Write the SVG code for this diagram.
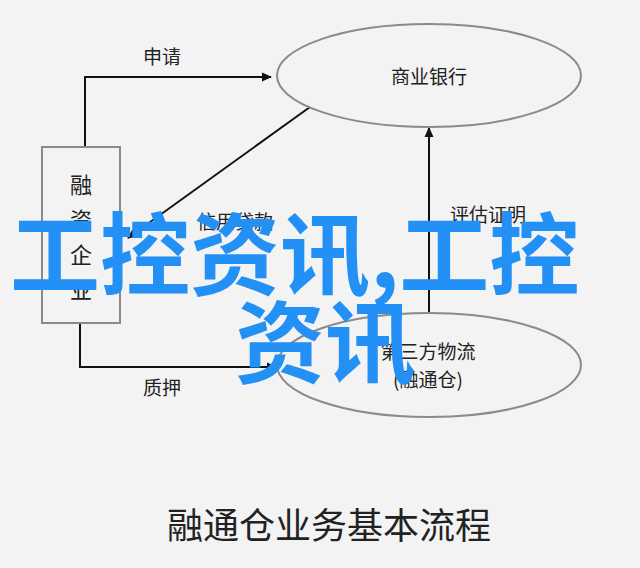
<svg xmlns="http://www.w3.org/2000/svg" width="640" height="568" viewBox="0 0 640 568">
<defs>
<marker id="arr" markerWidth="10" markerHeight="10" refX="9" refY="5" orient="auto" markerUnits="userSpaceOnUse">
<path d="M0,0.5 L10,5 L0,9.5 Z" fill="#111"/>
</marker>
<style>
.t{font-family:"Noto Sans CJK SC","Noto Sans",sans-serif;fill:#222;text-anchor:middle}
.lbl{font-size:19px}
.node{fill:none;stroke:#8a8a8a;stroke-width:2}
.edge{fill:none;stroke:#111;stroke-width:2}
.wm{font-family:"Noto Sans CJK SC",sans-serif;font-weight:bold;font-size:90px;fill:#2290f4}
</style>
</defs>
<rect width="640" height="568" fill="#f3f3f4"/>
<g id="connectors">
<path class="edge" d="M85,147 L85,77 L271,77" marker-end="url(#arr)"/>
<path class="edge" d="M310,107 L128,238" marker-end="url(#arr)"/>
<path class="edge" d="M429,312 L429,128" marker-end="url(#arr)"/>
<path class="edge" d="M80,323 L80,367 L276,367" marker-end="url(#arr)"/>
<text class="t lbl" x="162" y="64">申请</text>
<text class="t lbl" x="235" y="229">信用贷款</text>
<text class="t lbl" x="488" y="222">评估证明</text>
<text class="t lbl" x="162" y="395">质押</text>
</g>
<g id="enterprise">
<rect class="node" x="42" y="147" width="78" height="176"/>
<text class="t" font-size="22" x="81" y="193">融</text>
<text class="t" font-size="22" x="81" y="228">资</text>
<text class="t" font-size="22" x="81" y="263">企</text>
<text class="t" font-size="22" x="81" y="298">业</text>
</g>
<g id="bank">
<ellipse class="node" cx="429" cy="75.5" rx="152" ry="51.5"/>
<text class="t lbl" x="429" y="84">商业银行</text>
</g>
<g id="logistics">
<ellipse class="node" cx="429" cy="365" rx="152" ry="52"/>
<text class="t lbl" x="428" y="359">第三方物流</text>
<text class="t lbl" x="428" y="387">(融通仓)</text>
</g>
<g id="title">
<text class="t" font-size="36" x="329" y="539">融通仓业务基本流程</text>
</g>
<g id="watermark">
<text class="wm" x="10" y="288">工控资讯,工控</text>
<text class="wm" x="235" y="376">资讯</text>
</g>
</svg>
